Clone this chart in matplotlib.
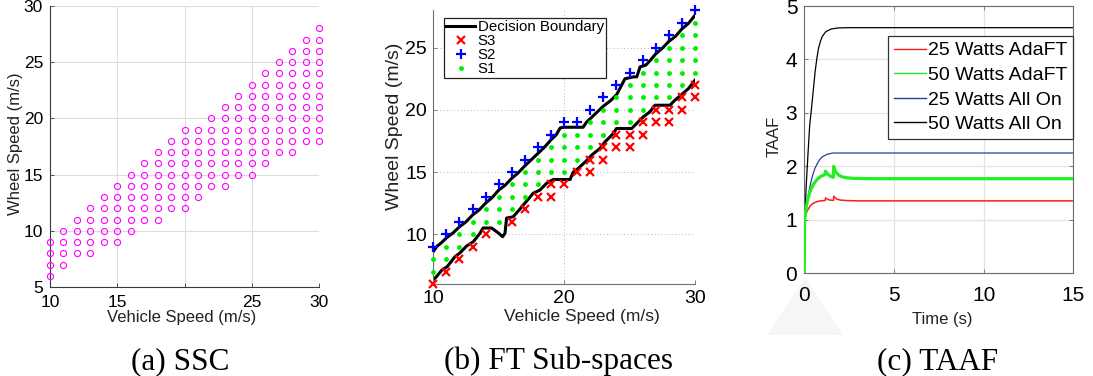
import matplotlib
matplotlib.use('Agg')
import matplotlib.pyplot as plt
from matplotlib.patches import Polygon
from matplotlib.lines import Line2D

plt.rcParams['font.family'] = ['Liberation Sans', 'DejaVu Sans']

# ---------------- (a) SSC ----------------
vehicle_speed = [10, 11, 12, 13, 14, 15, 16, 17, 18, 19, 20,
                 21, 22, 23, 24, 25, 26, 27, 28, 29, 30]
ssc_wheel_min = [6, 7, 8, 8, 9, 9, 10, 11, 11, 12, 12,
                 13, 14, 14, 15, 15, 16, 17, 17, 18, 18]
ssc_wheel_max = [9, 10, 11, 12, 13, 14, 15, 16, 17, 18, 19,
                 19, 20, 21, 22, 23, 24, 25, 26, 27, 28]

# ---------------- (b) FT sub-spaces ----------------
s2_vehicle = [10, 11, 12, 13, 14, 15, 16, 17, 18, 19, 20,
              21, 22, 23, 24, 25, 26, 27, 28, 29, 30]
s2_wheel = [9, 10, 11, 12, 13, 14, 15, 16, 17, 18, 19,
            19, 20, 21, 22, 23, 24, 25, 26, 27, 28]
s3_vehicle = [10, 11, 12, 13, 14, 16, 17, 18, 19, 19, 20, 21, 22, 22, 23,
              23, 24, 24, 25, 25, 26, 26, 27, 27, 28, 28, 29, 29, 30, 30]
s3_wheel = [6, 7, 8, 9, 10, 11, 12, 13, 13, 14, 14, 15, 15, 16, 16,
            17, 17, 18, 17, 18, 18, 19, 19, 20, 19, 20, 20, 21, 21, 22]
s1_wheel_min = [7, 8, 9, 10, 11, 11, 12, 13, 14, 15, 15,
                16, 17, 18, 19, 19, 20, 21, 21, 22, 23]
s1_wheel_max = [8, 9, 10, 11, 12, 13, 14, 15, 16, 17, 18,
                18, 19, 20, 21, 22, 23, 24, 25, 26, 27]

upper_bx = [10.0, 10.25, 10.6, 11.0, 11.5, 12.0, 12.5, 13.0, 13.5, 14.0, 14.5,
            15.0, 15.5, 16.0, 16.5, 17.0, 17.5, 18.0, 18.5, 19.0, 19.4, 19.7,
            20.0, 21.45, 21.7, 22.0, 22.5, 23.0, 23.5, 24.0, 24.3, 24.65, 25.3,
            25.55, 25.8, 26.25, 26.6, 27.0, 27.5, 28.0, 28.5, 29.0, 29.5, 30.0]
upper_by = [8.6, 9.0, 9.3, 9.7, 10.1, 10.6, 11.0, 11.55, 11.95, 12.5, 12.95,
            13.55, 13.95, 14.5, 14.95, 15.5, 16.0, 16.5, 17.0, 17.6, 18.0, 18.55,
            18.6, 18.6, 19.0, 19.3, 19.8, 20.3, 20.7, 21.2, 21.8, 22.5, 22.65,
            22.65, 23.45, 23.6, 24.0, 24.5, 24.95, 25.5, 25.9, 26.5, 26.95, 27.6]

lower_bx = [10.0, 10.25, 10.64, 11.07, 11.66, 12.04, 12.55, 13.06, 13.57, 13.8,
            14.46, 14.97, 15.3, 15.48, 15.6, 16.1, 16.6, 17.0, 17.64, 18.15,
            18.66, 19.17, 20.45, 20.7, 21.08, 21.6, 22.1, 22.74, 23.1, 23.76,
            24.0, 25.16, 25.54, 26.05, 26.56, 26.94, 28.09, 28.47, 28.98,
            29.49, 30.0]
lower_by = [6.34, 6.6, 7.1, 7.4, 8.2, 8.5, 9.06, 9.4, 10.08, 10.5,
            10.5, 10.1, 9.8, 10.08, 11.3, 11.4, 12.0, 12.5, 13.3, 13.55,
            14.1, 14.4, 14.4, 15.0, 15.3, 15.8, 16.36, 16.9, 17.4, 18.1,
            18.5, 18.5, 18.9, 19.44, 19.84, 20.37, 20.37, 20.78, 21.23,
            21.7, 22.38]

# ---------------- (c) TAAF ----------------
t_25_adaft = [0, 0.02, 0.1, 0.2, 0.35, 0.5, 0.7, 0.9, 1.1, 1.17, 1.18, 1.35,
              1.55, 1.63, 1.64, 1.8, 2.0, 2.4, 3.0, 15]
taaf_25_adaft = [0, 1.0, 1.12, 1.19, 1.27, 1.31, 1.34, 1.355, 1.36, 1.365,
                 1.41, 1.375, 1.365, 1.365, 1.44, 1.39, 1.37, 1.36, 1.355, 1.355]

t_50_adaft = [0, 0.02, 0.1, 0.2, 0.35, 0.5, 0.7, 0.9, 1.1, 1.17, 1.18, 1.3,
              1.45, 1.62, 1.63, 1.75, 1.9, 2.1, 2.4, 2.8, 3.5, 15]
taaf_50_adaft = [0, 1.0, 1.22, 1.4, 1.56, 1.66, 1.75, 1.81, 1.84, 1.85, 1.91,
                 1.86, 1.815, 1.795, 2.0, 1.9, 1.84, 1.805, 1.785, 1.775, 1.77, 1.77]

t_25_allon = [0, 0.02, 0.1, 0.2, 0.3, 0.4, 0.5, 0.6, 0.8, 1.0, 1.3, 1.6, 2.0, 15]
taaf_25_allon = [0, 1.0, 1.22, 1.42, 1.6, 1.75, 1.87, 1.97, 2.1, 2.18, 2.23,
                 2.25, 2.25, 2.25]

t_50_allon = [0, 0.02, 0.1, 0.2, 0.3, 0.4, 0.5, 0.6, 0.7, 0.8, 0.9, 1.0, 1.2,
              1.5, 1.9, 2.5, 15]
taaf_50_allon = [0, 1.0, 1.6, 2.2, 2.77, 3.08, 3.42, 3.76, 4.02, 4.22, 4.34,
                 4.43, 4.52, 4.57, 4.59, 4.595, 4.595]

W, H = 1093, 376
fig = plt.figure(figsize=(W / 100, H / 100), dpi=100)


def px_axes(left, top, right, bottom):
    return fig.add_axes([left / W, 1 - bottom / H, (right - left) / W, (bottom - top) / H])


# ================= panel (a) =================
ax1 = px_axes(50, 6, 319, 287)
sx, sy = [], []
for v, lo, hi in zip(vehicle_speed, ssc_wheel_min, ssc_wheel_max):
    for w in range(lo, hi + 1):
        sx.append(v)
        sy.append(w)
ax1.plot(sx, sy, 'o', ls='none', mfc='none', mec='#ff00ff', ms=4.4, mew=0.8,
         clip_on=False, zorder=3)
ax1.set_xlim(10, 30)
ax1.set_ylim(5, 30)
ax1.set_xticks([10, 15, 20, 25, 30])
ax1.set_xticklabels(['10', '15', '', '25', '30'])
ax1.set_yticks([5, 10, 15, 20, 25, 30])
ax1.grid(True, color='#dddddd', lw=0.8)
ax1.set_axisbelow(True)
for s in ['top', 'right']:
    ax1.spines[s].set_visible(False)
for s in ['left', 'bottom']:
    ax1.spines[s].set_color('#3a3a3a')
    ax1.spines[s].set_linewidth(0.8)
ax1.tick_params(direction='in', length=3, width=0.6, labelsize=12.5, color='#3a3a3a')
ax1.tick_params(axis='x', pad=5.5)
ax1.tick_params(axis='y', pad=5)
ax1.set_xlabel('Vehicle Speed (m/s)', fontsize=12, color='#222222')
ax1.set_ylabel('Wheel Speed (m/s)', fontsize=12, color='#222222')
ax1.xaxis.set_label_coords(0.49, -0.082)
ax1.yaxis.set_label_coords(-0.10, 0.51)

# ================= panel (b) =================
ax2 = px_axes(433.3, 10.3, 695, 284)
ax2.plot(upper_bx, upper_by, color='black', lw=2.2, label='Decision Boundary',
         solid_joinstyle='round', zorder=2)
ax2.plot(lower_bx, lower_by, color='black', lw=2.2, solid_joinstyle='round', zorder=2)
ax2.plot(s3_vehicle, s3_wheel, 'x', ls='none', color='#ff0000', ms=5.5, mew=1.6,
         label='S3', clip_on=False, zorder=3)
ax2.plot(s2_vehicle, s2_wheel, '+', ls='none', color='#0000ff', ms=7.5, mew=1.6,
         label='S2', clip_on=False, zorder=3)
gx, gy = [], []
for v, lo, hi in zip(s2_vehicle, s1_wheel_min, s1_wheel_max):
    for w in range(lo, hi + 1):
        gx.append(v)
        gy.append(w)
ax2.plot(gx, gy, 'o', ls='none', color='#00ee00', mec='none', ms=3.5,
         label='S1', clip_on=False, zorder=3)
ax2.set_xlim(10, 30)
ax2.set_ylim(6, 28)
ax2.set_xticks([10, 20, 30])
ax2.set_yticks([10, 15, 20, 25])
ax2.grid(True, color='#b5b5b5', lw=0.7, ls=(0, (1, 2.5)))
ax2.set_axisbelow(True)
for s in ['top', 'right']:
    ax2.spines[s].set_visible(False)
for s in ['left', 'bottom']:
    ax2.spines[s].set_color('#707070')
    ax2.spines[s].set_linewidth(0.8)
ax2.tick_params(direction='in', length=3, width=0.6, labelsize=14, color='#707070')
ax2.tick_params(axis='x', pad=4)
ax2.tick_params(axis='y', pad=4.5)
ax2.set_xlabel('Vehicle Speed (m/s)', fontsize=12.5, color='#222222')
ax2.set_ylabel('Wheel Speed (m/s)', fontsize=14, color='#222222')
ax2.xaxis.set_label_coords(0.567, -0.09)
ax2.yaxis.set_label_coords(-0.115, 0.575)
leg2 = ax2.legend(loc='upper left', bbox_to_anchor=(0.041, 0.972), borderaxespad=0,
                  fontsize=10.8, frameon=True, fancybox=False, framealpha=1,
                  edgecolor='#222222', handlelength=1.9, handletextpad=0.2,
                  labelspacing=0.0, borderpad=0.15)
leg2.get_frame().set_linewidth(0.9)

# ================= panel (c) =================
ax3 = px_axes(804.3, 6, 1073.3, 273.3)
ax3.plot(t_50_allon, taaf_50_allon, color='#000000', lw=0.9, zorder=2)
ax3.plot(t_25_allon, taaf_25_allon, color='#2a3d96', lw=0.9, zorder=2)
ax3.plot(t_25_adaft, taaf_25_adaft, color='#ff1a1a', lw=1.1, zorder=3)
ax3.plot(t_50_adaft, taaf_50_adaft, color='#22ee22', lw=2.3, zorder=4)
ax3.set_xlim(0, 15)
ax3.set_ylim(0, 5)
ax3.set_xticks([0, 5, 10, 15])
ax3.set_yticks([0, 1, 2, 3, 4, 5])
ax3.grid(True, color='#e3e3e3', lw=0.9)
ax3.set_axisbelow(True)
for s in ax3.spines.values():
    s.set_color('#6a6a6a')
    s.set_linewidth(0.8)
ax3.tick_params(direction='in', length=3, width=0.6, labelsize=15, color='#6a6a6a',
                top=True, right=True)
ax3.tick_params(axis='x', pad=9.5)
ax3.tick_params(axis='y', pad=5)
ax3.set_xlabel('Time (s)', fontsize=12, color='#222222')
ax3.set_ylabel('TAAF', fontsize=12, color='#222222')
ax3.xaxis.set_label_coords(0.514, -0.144)
ax3.yaxis.set_label_coords(-0.084, 0.514)
handles3 = [Line2D([], [], color='#ff1a1a', lw=1.0),
            Line2D([], [], color='#22ee22', lw=1.0),
            Line2D([], [], color='#2a3d96', lw=1.0),
            Line2D([], [], color='#000000', lw=1.0)]
labels3 = ['25 Watts AdaFT', '50 Watts AdaFT', '25 Watts All On', '50 Watts All On']
leg3 = ax3.legend(handles3, labels3, loc='upper right', bbox_to_anchor=(1.0, 0.888),
                  borderaxespad=0, fontsize=14, frameon=True, fancybox=False,
                  framealpha=1, edgecolor='#333333', handlelength=1.65,
                  handletextpad=0.1, labelspacing=0.36, borderpad=0.3)
leg3.get_frame().set_linewidth(0.9)

# faint watermark triangle below panel (c)
tri = Polygon([[805 / W, 1 - 277 / H], [767 / W, 1 - 335 / H], [843 / W, 1 - 335 / H]],
              closed=True, transform=fig.transFigure, facecolor='#f6f6f6',
              edgecolor='none', zorder=-1)
fig.patches.append(tri)

# ---------------- captions ----------------
cap_kw = dict(fontsize=22.5, family=['Liberation Serif', 'DejaVu Serif'],
              ha='center', va='baseline', color='black')
fig.text(180 / W, 1 - 369 / H, '(a) SSC', **cap_kw)
fig.text(559 / W, 1 - 369 / H, '(b) FT Sub-spaces', **cap_kw)
fig.text(938 / W, 1 - 369 / H, '(c) TAAF', **cap_kw)

fig.savefig('out.png', dpi=100)
